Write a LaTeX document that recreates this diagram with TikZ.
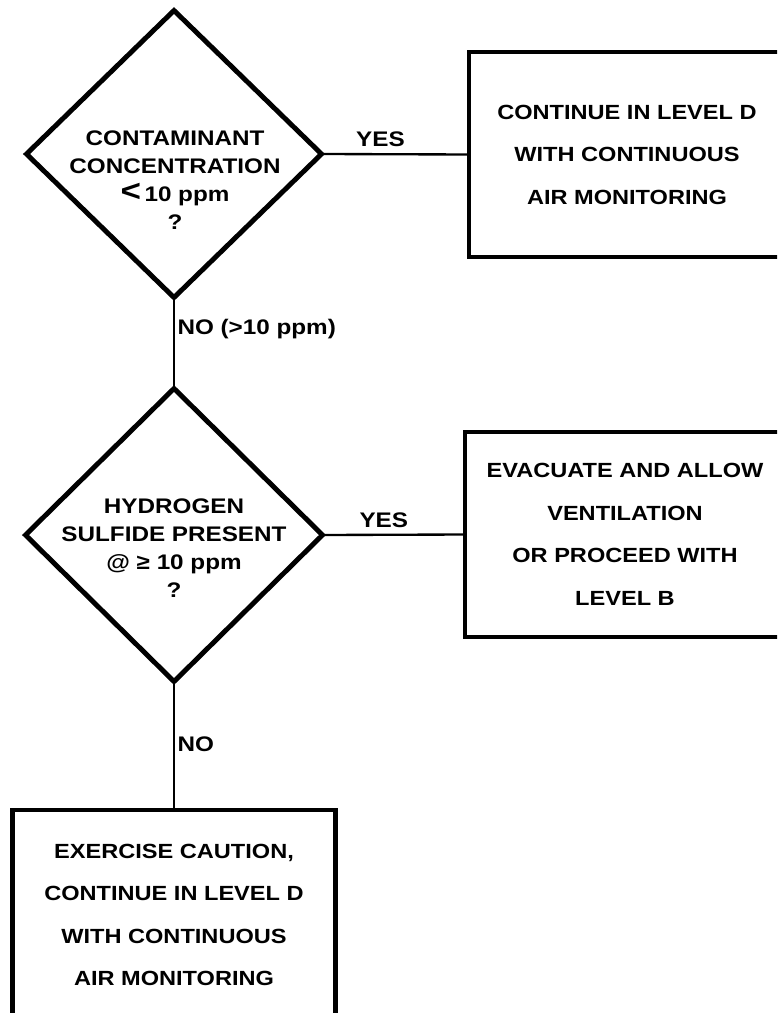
\documentclass[tikz,border=0pt]{standalone}
\usepackage{fontspec}
\usepackage{tikz}
\usetikzlibrary{shapes.geometric}
\newfontfamily\chartfont{Liberation Sans}[FakeStretch=1.15]
\newcommand\boxfont{\chartfont\bfseries\fontsize{17.5}{36.3}\selectfont}
\newcommand\askfont{\chartfont\bfseries\fontsize{18}{24}\selectfont}

\begin{document}
\begin{tikzpicture}[x=0.03cm,y=-0.03cm,
    decision/.style={draw,diamond,line width=4.2pt,inner sep=0pt,outer sep=0pt},
    outcome/.style={draw,rectangle,line width=4.2pt,align=center,inner sep=0pt,outer sep=0pt,font=\boxfont},
    asktext/.style={align=center,font=\askfont},
    wire/.style={line width=2pt},
    answer/.style={font=\askfont,inner sep=2pt}]
          \useasboundingbox (0,0) rectangle (777,1013);
          \clip (0,0) rectangle (777,1013);
          %% questions
          \node[decision,minimum width=8.85cm,minimum height=8.61cm] (q1) at (174,154) {};
          \node[asktext] (q1txt) at (175,180) {CONTAMINANT\\CONCENTRATION\\{\fontsize{26}{24}\selectfont <}\,10 ppm\\?};
          \node[decision,minimum width=8.91cm,minimum height=8.79cm] (q2) at (174,535) {};
          \node[asktext] (q2txt) at (174,548) {HYDROGEN\\SULFIDE PRESENT\\@ ≥ 10 ppm\\?};
          %% outcomes
          \node[outcome,minimum width=9.48cm,minimum height=6.15cm] (d1) at (627,154.5)
            {CONTINUE IN LEVEL D\\WITH CONTINUOUS\\AIR MONITORING};            % level D
          \node[outcome,minimum width=9.6cm,minimum height=6.15cm] (d2) at (625,534.5)
            {EVACUATE AND ALLOW\\VENTILATION\\OR PROCEED WITH\\LEVEL B};     % level B
          \node[outcome,minimum width=9.69cm,minimum height=6.3cm] (d3) at (174,915)
            {EXERCISE CAUTION,\\CONTINUE IN LEVEL D\\WITH CONTINUOUS\\AIR MONITORING}; % caution
          %% connectors
          \draw[wire] (q1.east) -- node[answer,above=3pt,pos=0.4] {YES} (d1.west);
          \draw[wire] (q1.south) -- node[answer,right=0pt,pos=0.35] {NO (>10 ppm)} (q2.north);
          \draw[wire] (q2.east) -- node[answer,above=3pt,pos=0.43] {YES} (d2.west);
          \draw[wire] (q2.south) -- node[answer,right=0pt,pos=0.49] {NO} (d3.north);
\end{tikzpicture}
\end{document}
